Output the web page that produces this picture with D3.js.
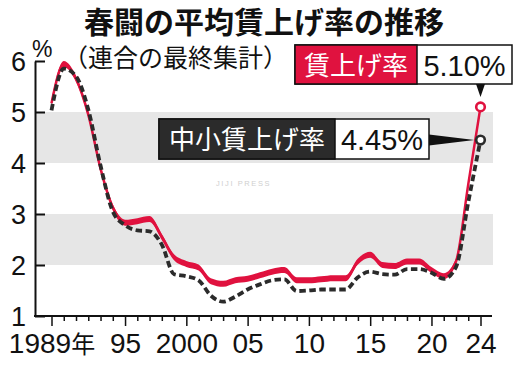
<!DOCTYPE html>
<html>
<head>
<meta charset="utf-8">
<script src="https://cdn.jsdelivr.net/npm/d3@7"></script>
<style>
  body { margin: 0; background: #fff; }
  svg { display: block; }
</style>
</head>
<body>
<script>
// 春闘の平均賃上げ率（連合の最終集計）
const years = d3.range(1989, 2025);
const allRates = [5.17, 5.94, 5.65, 4.95, 3.89, 3.13, 2.83, 2.86, 2.90, 2.55,
                  2.15, 2.02, 1.95, 1.68, 1.63, 1.70, 1.73, 1.80, 1.87, 1.90,
                  1.70, 1.70, 1.72, 1.74, 1.74, 2.07, 2.20, 2.00, 1.98, 2.07,
                  2.07, 1.90, 1.78, 2.07, 3.58, 5.10];
const smeRates = [5.03, 5.85, 5.70, 5.05, 3.95, 3.05, 2.78, 2.68, 2.66, 2.40,
                  1.82, 1.78, 1.70, 1.40, 1.28, 1.38, 1.52, 1.62, 1.70, 1.72,
                  1.49, 1.50, 1.52, 1.52, 1.52, 1.76, 1.87, 1.82, 1.81, 1.92,
                  1.92, 1.85, 1.73, 1.96, 3.23, 4.45];
const yTicks = [1, 2, 3, 4, 5, 6];
const bands = [[2, 3], [4, 5]];
const xTickYears = [1989, 1995, 2000, 2005, 2010, 2015, 2020, 2024];
const xTickLabels = ["1989年", "95", "2000", "05", "10", "15", "20", "24"];

const RED = "#e0123f", DARK = "#2b2b2b", BAND = "#e6e6e6";
const JP = "'Noto Sans CJK JP', sans-serif";
const NUM = "'Liberation Sans', Arial, sans-serif";

let width = 520, height = 365;
let axisX = 35;

let svg = d3.select("body").append("svg")
    .attr("width", width)
    .attr("height", height);

let x = d3.scaleLinear().domain([1989, 2024]).range([51.5, 480.5]);
let y = d3.scaleLinear().domain([1, 6]).range([316, 61]);

// gray bands
svg.selectAll("rect.band")
    .data(bands)
    .enter()
    .append("rect")
    .attr("class", "band")
    .attr("x", axisX)
    .attr("width", 493 - axisX)
    .attr("y", d => y(d[1]))
    .attr("height", d => y(d[0]) - y(d[1]))
    .attr("fill", BAND);

// watermark
svg.append("text")
    .attr("x", 216).attr("y", 186)
    .attr("font-family", NUM).attr("font-size", 7.5)
    .attr("letter-spacing", 1.6)
    .attr("fill", "#cfcfcf")
    .text("JIJI PRESS");

// y axis (ticks pointing inward)
let yAxis = svg.append("g")
    .attr("transform", `translate(${axisX},0)`)
    .call(d3.axisLeft(y).tickValues(yTicks).tickFormat(d3.format("d"))
        .tickSize(-10).tickSizeOuter(0).tickPadding(9));
yAxis.select(".domain").attr("stroke", "#111").attr("stroke-width", 2);
yAxis.selectAll(".tick line").attr("stroke", "#111").attr("stroke-width", 2);
yAxis.selectAll(".tick text")
    .attr("font-family", NUM).attr("font-size", 27).attr("fill", "#111")
    .attr("dy", "0.34em");

svg.append("text")
    .attr("x", 32).attr("y", 57)
    .attr("font-family", NUM).attr("font-size", 23).attr("fill", "#111")
    .text("%");

// x axis
let labelFor = d => {
    let i = xTickYears.indexOf(d);
    return i < 0 ? "" : xTickLabels[i];
};
let xAxis = svg.append("g")
    .attr("transform", `translate(0,${y(1)})`)
    .call(d3.axisBottom(x).tickValues(years).tickSize(5).tickSizeOuter(0).tickFormat(labelFor));
xAxis.select(".domain").remove();
xAxis.append("line")
    .attr("x1", axisX - 1).attr("x2", 492)
    .attr("stroke", "#111").attr("stroke-width", 2);
xAxis.selectAll(".tick line")
    .attr("stroke", "#111").attr("stroke-width", 1.5)
    .attr("y2", d => labelFor(d) ? 10 : 5);
xAxis.selectAll(".tick text")
    .attr("font-family", NUM).attr("font-size", 28).attr("fill", "#111")
    .attr("y", 37).attr("dy", 0)
    .each(function (d) {
        let t = d3.select(this);
        let m = labelFor(d).match(/^(\d+)(年?)$/);
        t.text(null);
        if (!m) return;
        t.append("tspan").text(m[1]);
        if (m[2]) t.append("tspan").attr("font-family", JP).attr("font-size", 24).text(m[2]);
    });

// 賃上げ率: ribbon with constant vertical thickness
let allData = years.map((yr, i) => ({ yr, v: allRates[i] }));
let smeData = years.map((yr, i) => ({ yr, v: smeRates[i] }));

let ribbon = d3.area()
    .x(d => x(d.yr))
    .y0(d => y(d.v) - 3)
    .y1(d => y(d.v) + 3)
    .curve(d3.curveMonotoneX);
let line = d3.line()
    .x(d => x(d.yr))
    .y(d => y(d.v))
    .curve(d3.curveMonotoneX);

svg.append("path")
    .datum(allData)
    .attr("d", ribbon)
    .attr("fill", RED);
svg.append("path")
    .datum(allData)
    .attr("d", line)
    .attr("fill", "none")
    .attr("stroke", RED)
    .attr("stroke-width", 2.5);

// 中小賃上げ率: dashed
svg.append("path")
    .datum(smeData)
    .attr("d", line)
    .attr("fill", "none")
    .attr("stroke", DARK)
    .attr("stroke-width", 3.8)
    .attr("stroke-dasharray", "6.5,3.5");

// end markers
let last = years.length - 1;
let xEnd = x(years[last]);
svg.append("circle")
    .attr("cx", xEnd).attr("cy", y(allRates[last])).attr("r", 4.3)
    .attr("fill", "#fff").attr("stroke", RED).attr("stroke-width", 2.6);
svg.append("circle")
    .attr("cx", xEnd).attr("cy", y(smeRates[last])).attr("r", 4.3)
    .attr("fill", "#fff").attr("stroke", DARK).attr("stroke-width", 2.6);

// callout: 賃上げ率
let b1 = { x: 295, y: 45, w: 217, h: 39, split: 122 };
svg.append("rect")
    .attr("x", b1.x).attr("y", b1.y).attr("width", b1.w).attr("height", b1.h)
    .attr("fill", "#fff").attr("stroke", "#111").attr("stroke-width", 1.5);
svg.append("rect")
    .attr("x", b1.x).attr("y", b1.y).attr("width", b1.split).attr("height", b1.h)
    .attr("fill", RED).attr("stroke", "#111").attr("stroke-width", 1.5);
svg.append("text")
    .attr("x", b1.x + b1.split / 2).attr("y", b1.y + 30)
    .attr("text-anchor", "middle")
    .attr("font-family", JP).attr("font-size", 26).attr("fill", "#fff")
    .text("賃上げ率");
svg.append("text")
    .attr("x", b1.x + b1.split + (b1.w - b1.split) / 2).attr("y", b1.y + 31)
    .attr("text-anchor", "middle")
    .attr("font-family", NUM).attr("font-size", 29).attr("fill", "#111")
    .text(allRates[last].toFixed(2) + "%");
svg.append("path")
    .attr("d", `M${xEnd - 4.5},${b1.y + b1.h}L${xEnd + 4.5},${b1.y + b1.h}L${xEnd},${b1.y + b1.h + 13}Z`)
    .attr("fill", "#111");

// callout: 中小賃上げ率
let b2 = { x: 159, y: 119, w: 270, h: 40, split: 176 };
svg.append("rect")
    .attr("x", b2.x).attr("y", b2.y).attr("width", b2.w).attr("height", b2.h)
    .attr("fill", "#fff").attr("stroke", "#111").attr("stroke-width", 1.5);
svg.append("rect")
    .attr("x", b2.x).attr("y", b2.y).attr("width", b2.split).attr("height", b2.h)
    .attr("fill", DARK).attr("stroke", "#111").attr("stroke-width", 1.5);
svg.append("text")
    .attr("x", b2.x + b2.split / 2).attr("y", b2.y + 30)
    .attr("text-anchor", "middle")
    .attr("font-family", JP).attr("font-size", 26).attr("fill", "#fff")
    .text("中小賃上げ率");
svg.append("text")
    .attr("x", b2.x + b2.split + (b2.w - b2.split) / 2).attr("y", b2.y + 31)
    .attr("text-anchor", "middle")
    .attr("font-family", NUM).attr("font-size", 29).attr("fill", "#111")
    .text(smeRates[last].toFixed(2) + "%");
let ySme = y(smeRates[last]);
svg.append("path")
    .attr("d", `M${b2.x + b2.w},${ySme - 5.5}L${b2.x + b2.w},${ySme + 5.5}L${xEnd - 6},${ySme}Z`)
    .attr("fill", "#111");

// titles
svg.append("text")
    .attr("x", 264).attr("y", 33)
    .attr("text-anchor", "middle")
    .attr("font-family", JP).attr("font-size", 30).attr("font-weight", "bold").attr("fill", "#111")
    .text("春闘の平均賃上げ率の推移");
svg.append("text")
    .attr("x", 63).attr("y", 67)
    .attr("font-family", JP).attr("font-size", 25).attr("fill", "#111")
    .text("（連合の最終集計）");
</script>
</body>
</html>
